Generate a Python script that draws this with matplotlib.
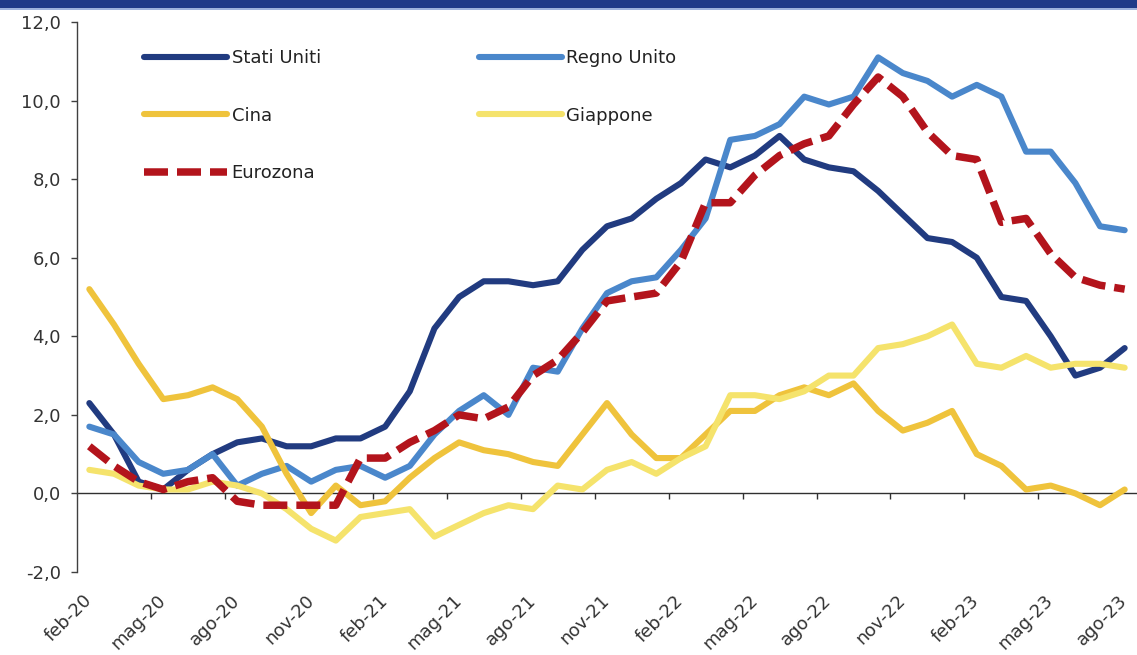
import matplotlib
matplotlib.use("Agg")
import matplotlib.pyplot as plt
from matplotlib.patches import Rectangle
from matplotlib.transforms import ScaledTranslation

# mesi da feb-20 a ago-23
mesi_nomi = ["gen", "feb", "mar", "apr", "mag", "giu", "lug", "ago", "set", "ott", "nov", "dic"]
mesi = []
for anno in range(20, 24):
    for m in mesi_nomi:
        mesi.append("%s-%d" % (m, anno))
mesi = mesi[1:mesi.index("ago-23") + 1]

stati_uniti = [2.3, 1.5, 0.3, 0.1, 0.6, 1.0, 1.3, 1.4, 1.2, 1.2, 1.4, 1.4,
               1.7, 2.6, 4.2, 5.0, 5.4, 5.4, 5.3, 5.4, 6.2, 6.8, 7.0, 7.5,
               7.9, 8.5, 8.3, 8.6, 9.1, 8.5, 8.3, 8.2, 7.7, 7.1, 6.5, 6.4,
               6.0, 5.0, 4.9, 4.0, 3.0, 3.2, 3.7]
regno_unito = [1.7, 1.5, 0.8, 0.5, 0.6, 1.0, 0.2, 0.5, 0.7, 0.3, 0.6, 0.7,
               0.4, 0.7, 1.5, 2.1, 2.5, 2.0, 3.2, 3.1, 4.2, 5.1, 5.4, 5.5,
               6.2, 7.0, 9.0, 9.1, 9.4, 10.1, 9.9, 10.1, 11.1, 10.7, 10.5, 10.1,
               10.4, 10.1, 8.7, 8.7, 7.9, 6.8, 6.7]
cina = [5.2, 4.3, 3.3, 2.4, 2.5, 2.7, 2.4, 1.7, 0.5, -0.5, 0.2, -0.3,
        -0.2, 0.4, 0.9, 1.3, 1.1, 1.0, 0.8, 0.7, 1.5, 2.3, 1.5, 0.9,
        0.9, 1.5, 2.1, 2.1, 2.5, 2.7, 2.5, 2.8, 2.1, 1.6, 1.8, 2.1,
        1.0, 0.7, 0.1, 0.2, 0.0, -0.3, 0.1]
giappone = [0.6, 0.5, 0.2, 0.1, 0.1, 0.3, 0.2, 0.0, -0.4, -0.9, -1.2, -0.6,
            -0.5, -0.4, -1.1, -0.8, -0.5, -0.3, -0.4, 0.2, 0.1, 0.6, 0.8, 0.5,
            0.9, 1.2, 2.5, 2.5, 2.4, 2.6, 3.0, 3.0, 3.7, 3.8, 4.0, 4.3,
            3.3, 3.2, 3.5, 3.2, 3.3, 3.3, 3.2]
eurozona = [1.2, 0.7, 0.3, 0.1, 0.3, 0.4, -0.2, -0.3, -0.3, -0.3, -0.3, 0.9,
            0.9, 1.3, 1.6, 2.0, 1.9, 2.2, 3.0, 3.4, 4.1, 4.9, 5.0, 5.1,
            5.9, 7.4, 7.4, 8.1, 8.6, 8.9, 9.1, 9.9, 10.6, 10.1, 9.2, 8.6,
            8.5, 6.9, 7.0, 6.1, 5.5, 5.3, 5.2]

y_ticks = [-2, 0, 2, 4, 6, 8, 10, 12]

W, H = 1137, 655
fig = plt.figure(figsize=(W / 100, H / 100), dpi=100)
fig.patch.set_facecolor("white")

# banda blu in alto
fig.patches.append(Rectangle((0, 1 - 8 / H), 1, 8 / H, transform=fig.transFigure,
                             facecolor="#1f3a88", edgecolor="none"))
fig.patches.append(Rectangle((0, 1 - 9.5 / H), 1, 1.5 / H, transform=fig.transFigure,
                             facecolor="#9db2dc", edgecolor="none"))

ax = fig.add_axes([77 / W, 1 - 572 / H, 1 - 77 / W, (572 - 22) / H])

x = list(range(len(mesi)))
kw = dict(solid_joinstyle="round", solid_capstyle="round")
l_us, = ax.plot(x, stati_uniti, color="#213b80", lw=4.4, label="Stati Uniti", **kw)
l_uk, = ax.plot(x, regno_unito, color="#4a87cb", lw=4.4, label="Regno Unito", **kw)
l_cn, = ax.plot(x, cina, color="#efc33c", lw=4.4, label="Cina", **kw)
l_jp, = ax.plot(x, giappone, color="#f5e36c", lw=4.4, label="Giappone", **kw)
l_ez, = ax.plot(x, eurozona, color="#b3141c", lw=5.4, dashes=(3.2, 1.2),
                dash_capstyle="butt", label="Eurozona")

ax.set_xlim(-0.5, len(mesi) - 0.5)
ax.set_ylim(y_ticks[0], y_ticks[-1])

for s in ["top", "right", "bottom"]:
    ax.spines[s].set_visible(False)
ax.spines["left"].set_color("#404040")
ax.spines["left"].set_linewidth(1.0)

ax.set_yticks(y_ticks)
ax.set_yticklabels([("%.1f" % v).replace(".", ",") for v in y_ticks])
ax.tick_params(axis="y", direction="out", length=4.5, width=1.0, color="#404040",
               labelsize=13, labelcolor="#333333", pad=7)

# etichette mesi in basso
etichette = list(range(0, len(mesi), 3))
ax.set_xticks(etichette)
ax.set_xticklabels([mesi[i] for i in etichette])
ax.tick_params(axis="x", length=0, labelsize=13, labelcolor="#333333", pad=14)
sposta = ScaledTranslation(-0.065, 0, fig.dpi_scale_trans)
for lab in ax.get_xticklabels():
    lab.set_rotation(45)
    lab.set_ha("right")
    lab.set_va("top")
    lab.set_rotation_mode("anchor")
    lab.set_transform(lab.get_transform() + sposta)

# asse orizzontale sullo zero
pos_zero = (0 - y_ticks[0]) / (y_ticks[-1] - y_ticks[0])
asse0 = ax.secondary_xaxis(pos_zero)
asse0.set_xticks([i - 0.5 for i in range(3, len(mesi), 3)])
asse0.set_xticklabels([])
asse0.tick_params(axis="x", direction="out", length=4.5, width=1.0, color="#303030")
asse0.spines["bottom"].set_color("#303030")
asse0.spines["bottom"].set_linewidth(1.0)
for s in ["top", "left", "right"]:
    asse0.spines[s].set_visible(False)

leg = ax.legend(handles=[l_us, l_cn, l_ez, l_uk, l_jp], ncol=2, frameon=False,
                loc="upper left", bbox_to_anchor=(144 / W, 1 - 49 / H),
                bbox_transform=fig.transFigure, borderpad=0, borderaxespad=0,
                fontsize=13, handlelength=4.6, handletextpad=0.25,
                columnspacing=8.75, labelspacing=2.2)
for t in leg.get_texts():
    t.set_color("#222222")

fig.savefig("out.png", dpi=100)
